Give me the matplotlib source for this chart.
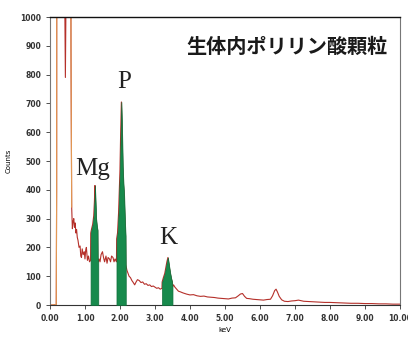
import numpy as np
import matplotlib.pyplot as plt

# EDS spectrum (keV, counts); values > 1000 run off the top
kev = [0.00, 0.10, 0.18, 0.19, 0.20, 0.40, 0.42, 0.44, 0.46, 0.58, 0.60, 0.62, 0.64, 0.66, 0.68,
       0.70, 0.72, 0.74, 0.76, 0.78, 0.80, 0.83, 0.86, 0.88, 0.90, 0.92, 0.95, 0.98, 1.00, 1.02,
       1.04, 1.07, 1.10, 1.13,
       1.16, 1.165, 1.19, 1.22, 1.25, 1.27, 1.285, 1.30, 1.32, 1.34, 1.36, 1.365, 1.38,
       1.40, 1.43, 1.46, 1.50, 1.53, 1.56, 1.60, 1.63, 1.66, 1.70, 1.73, 1.76, 1.80, 1.83, 1.86,
       1.90, 1.905, 1.93, 1.96, 1.98, 2.00, 2.02, 2.04, 2.06, 2.08, 2.10, 2.12, 2.14, 2.16, 2.165,
       2.20, 2.23, 2.26, 2.30, 2.34, 2.38, 2.42, 2.46, 2.50, 2.55, 2.60, 2.65, 2.70, 2.75, 2.80,
       2.85, 2.90, 2.95, 3.00, 3.05, 3.10, 3.15,
       3.20, 3.205, 3.24, 3.28, 3.31, 3.34, 3.37, 3.40, 3.43, 3.46, 3.49, 3.50,
       3.53, 3.57, 3.62, 3.67, 3.72, 3.80, 3.90, 4.00, 4.10, 4.20, 4.30, 4.40, 4.50, 4.60,
       4.70, 4.80, 4.90, 5.00, 5.10, 5.20, 5.30, 5.38, 5.44, 5.50, 5.56, 5.62, 5.70, 5.80, 5.90,
       6.00, 6.10, 6.20, 6.30, 6.36, 6.42, 6.46, 6.50, 6.55, 6.62, 6.70, 6.80, 6.90, 7.00, 7.10,
       7.25, 7.40, 7.55, 7.70, 7.85, 8.00, 8.20, 8.40, 8.60, 8.80, 9.00, 9.20, 9.40, 9.60, 9.80,
       10.00]
counts = [0, 0, 2, 400, 3000, 3000, 1100, 790, 1100, 3000, 900, 340, 265, 290, 300,
          270, 285, 250, 262, 235, 225, 200, 205, 170, 165, 195, 175, 185, 160, 190,
          200, 155, 170, 150,
          155, 250, 265, 280, 310, 360, 415, 370, 300, 275, 260, 160, 150,
          160, 150, 175, 185, 165, 150, 170, 145, 165, 160, 150, 170, 165, 150, 160,
          150, 230, 250, 320, 400, 470, 600, 705, 610, 480, 420, 380, 300, 240, 140,
          120, 110, 100, 95, 85, 78, 70, 80, 88, 85, 78, 80, 72, 74, 68,
          70, 64, 66, 62, 58, 60, 55,
          58, 80, 95, 110, 130, 150, 165, 140, 115, 95, 80, 62,
          70, 62, 55, 48, 46, 42, 38, 35, 36, 32, 30, 31, 28, 27,
          26, 24, 23, 22, 21, 24, 25, 32, 38, 40, 30, 23, 22, 20, 19,
          18, 17, 19, 20, 32, 50, 55, 45, 30, 18, 13, 12, 14, 15, 17,
          13, 12, 11, 10, 9, 9, 8, 7, 6, 6, 5, 5, 4, 4, 3,
          3]

# element windows (keV) and labels
peak_names = ['Mg', 'P', 'K']
peak_lo = [1.16, 1.90, 3.20]
peak_hi = [1.38, 2.17, 3.50]
label_x = [1.21, 2.13, 3.39]
label_y = [451, 753, 212]

kev = np.array(kev)
counts = np.array(counts)

fig = plt.figure(figsize=(4.08, 3.38), dpi=100)
ax = fig.add_axes([0.1225, 0.0976, 0.8578, 0.8521])

ax.plot(kev, counts, color='#b5302a', lw=0.8, zorder=2)
# steep low-energy edges look orange in the print
m1 = kev <= 0.20
m2 = (kev >= 0.58) & (kev <= 0.62)
ax.plot(kev[m1], counts[m1], color='#e39a55', lw=0.8, zorder=2)
ax.plot(kev[m2], counts[m2], color='#e39a55', lw=0.8, zorder=2)

for lo, hi in zip(peak_lo, peak_hi):
    w = (kev >= lo) & (kev <= hi)
    ax.fill_between(kev[w], 0, counts[w], color='#178a4c', edgecolor='#0f6e3a', lw=0.5, zorder=3)

for name, x, y in zip(peak_names, label_x, label_y):
    ax.text(x, y, name, ha='center', va='baseline', fontsize=18, family='Liberation Serif', color='#222222')

ax.text(6.76, 899, '生体内ポリリン酸顆粒', ha='center', va='center', fontsize=14.5,
        fontweight='bold', family=['Noto Sans CJK JP', 'DejaVu Sans'], color='#1a1a1a')

ax.set_xlim(0, 10)
ax.set_ylim(0, 1000)
ax.set_xticks(np.arange(0, 11, 1))
ax.set_xticklabels(['%.2f' % v for v in range(11)])
ax.set_yticks(np.arange(0, 1001, 100))
ax.tick_params(labelsize=5.5, length=3, width=0.6, colors='#333333')
for lab in ax.get_xticklabels() + ax.get_yticklabels():
    lab.set_fontweight('bold')
ax.set_xlabel('keV', fontsize=5, labelpad=3)
ax.set_ylabel('Counts', fontsize=5, labelpad=6)

ax.spines['top'].set_color('#111111')
ax.spines['top'].set_linewidth(1.0)
ax.spines['bottom'].set_color('#333333')
ax.spines['bottom'].set_linewidth(0.8)
ax.spines['left'].set_color('#777777')
ax.spines['left'].set_linewidth(0.8)
ax.spines['right'].set_color('#777777')
ax.spines['right'].set_linewidth(0.8)

fig.savefig('out.png', dpi=100)
